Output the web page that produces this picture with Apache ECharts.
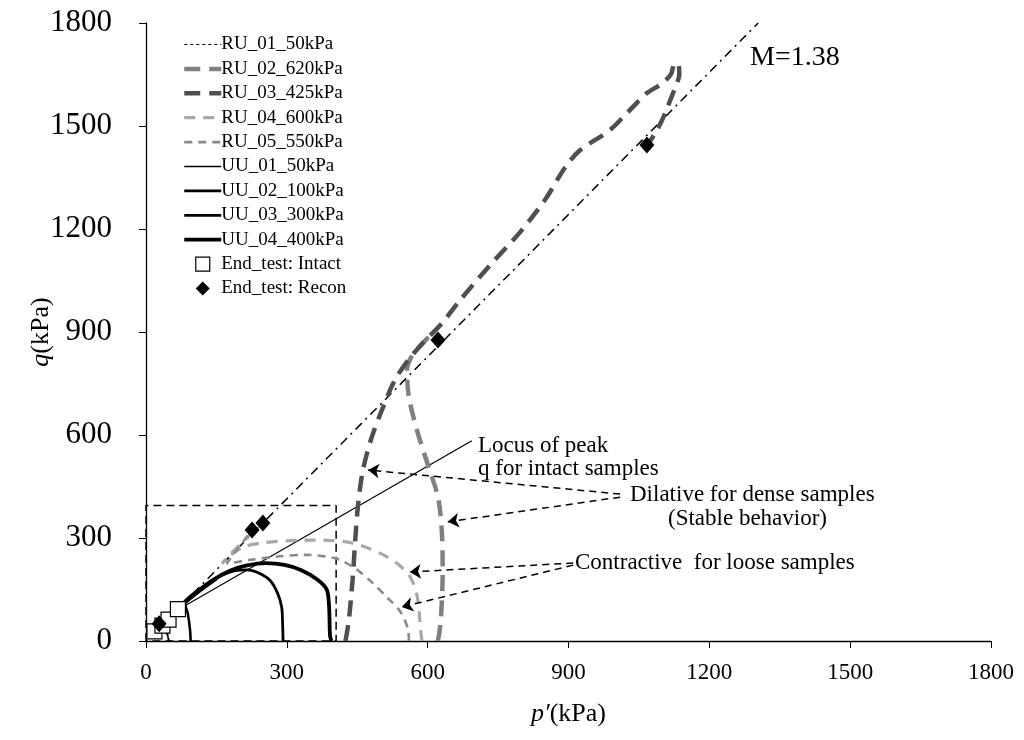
<!DOCTYPE html>
<html><head><meta charset="utf-8">
<script src="https://cdn.jsdelivr.net/npm/echarts@6/dist/echarts.min.js"></script>
<style>html,body{margin:0;padding:0;background:#fff}#c{width:1024px;height:740px}</style>
</head><body><div id="c"></div>
<script>
// ---- data (p', q) in kPa ----
const xTicks = [0, 300, 600, 900, 1200, 1500, 1800];
const yTicks = [0, 300, 600, 900, 1200, 1500, 1800];
const RU_01 = [[50,0],[46,15],[40,30],[33,42],[28,50]];
const RU_02 = [[622,0],[628,60],[632,207],[630,323],[622,419],[600,515],[577,615],[560,711],[556,790],[568,835],[584,860],[602,885],[616,898]];
const RU_03 = [[425,0],[432,60],[440,177],[446,300],[452,400],[462,497],[480,590],[505,681],[530,760],[559,819],[590,868],[630,925],[669,993],[733,1095],[797,1191],[850,1285],[893,1380],[925,1430],[988,1488],[1027,1541],[1067,1596],[1095,1620],[1118,1650],[1125,1680],[1133,1682],[1136,1650],[1130,1620],[1121,1590],[1110,1552],[1099,1516],[1085,1480],[1072,1452]];
const RU_04 = [[588,0],[585,32],[578,128],[563,186],[534,227],[498,256],[441,285],[371,294],[300,292],[250,286],[210,275],[180,250],[162,226],[182,256],[212,297],[249,344]];
const RU_05 = [[560,0],[558,35],[542,85],[515,125],[482,170],[445,212],[405,240],[340,251],[280,246],[220,236],[185,228],[172,226],[195,268],[226,323]];
const UU_01 = [[48,0],[46,20],[44,40],[50,58],[55,68],[45,58],[30,42],[18,28]];
const UU_02 = [[95,0],[94,30],[89,80],[83,110],[100,135],[130,165],[150,180],[120,150],[90,118],[66,90],[45,61]];
const UU_03 = [[292,0],[291,50],[289,99],[280,140],[264,177],[240,198],[215,207],[190,205],[160,190],[130,165],[100,135],[80,110],[68,92]];
const UU_04 = [[395,0],[392,15],[390,100],[385,150],[364,180],[330,207],[295,222],[255,227],[215,220],[180,205],[143,178],[110,145],[87,120],[70,95]];
const intactEnd = [[18,28],[35,45],[48,62],[68,93]];
const reconEnd = [[28,50],[226,323],[249,344],[622,877],[1067,1445]];
const mLine = [[100,138],[1304,1800]];
const locusLine = [[20,53],[694,583]];
const boxLine = [[0,0],[0,395],[405,395],[405,0],[0,0]];
const arrows = [
  [[1010,428],[473,498]],
  [[1010,419],[643,347]],
  [[910,227],[562,201]],
  [[910,221],[545,99]]
];
const lineNames = ['RU_01_50kPa','RU_02_620kPa','RU_03_425kPa','RU_04_600kPa','RU_05_550kPa','UU_01_50kPa','UU_02_100kPa','UU_03_300kPa','UU_04_400kPa'];
const pointNames = ['End_test: Intact','End_test: Recon'];

const FONT = 'Liberation Serif, Times New Roman, serif';
const styles = {
  'RU_01_50kPa':  {color:'#000',    width:1.2, type:[3,3]},
  'RU_02_620kPa': {color:'#808080', width:4.5, type:[16,9]},
  'RU_03_425kPa': {color:'#4f4f4f', width:4.5, type:[16,9]},
  'RU_04_600kPa': {color:'#a8a8a8', width:3.2, type:[11,8]},
  'RU_05_550kPa': {color:'#8a8a8a', width:2.6, type:[8,6]},
  'UU_01_50kPa':  {color:'#000',    width:1.6, type:'solid'},
  'UU_02_100kPa': {color:'#000',    width:2.6, type:'solid'},
  'UU_03_300kPa': {color:'#000',    width:2.8, type:'solid'},
  'UU_04_400kPa': {color:'#000',    width:3.8, type:'solid'}
};
const curveData = {'RU_01_50kPa':RU_01,'RU_02_620kPa':RU_02,'RU_03_425kPa':RU_03,'RU_04_600kPa':RU_04,'RU_05_550kPa':RU_05,
  'UU_01_50kPa':UU_01,'UU_02_100kPa':UU_02,'UU_03_300kPa':UU_03,'UU_04_400kPa':UU_04};
function curve(name) {
  const s = styles[name];
  return {name, type:'line', data:curveData[name], showSymbol:false, symbol:'none', smooth:0.3,
    lineStyle:{color:s.color, width:s.width, type:s.type}, itemStyle:{color:s.color}, z:3};
}
const chart = echarts.init(document.getElementById('c'), null, {renderer:'canvas'});
const legendData = lineNames.map(n => ({name:n, itemStyle:{opacity:0},
    lineStyle:{width:styles[n].width, color:styles[n].color, type:styles[n].type}}))
  .concat([
    {name:pointNames[0], icon:'path://M0,0L10,0L10,10L0,10Z', itemStyle:{color:'#fff', borderColor:'#000', borderWidth:1.2}},
    {name:pointNames[1], icon:'path://M5,0L10,5L5,10L0,5Z', itemStyle:{color:'#000'}}
  ]);
const option = {
  animation:false,
  backgroundColor:'#fff',
  grid:{left:146, right:33, top:23, bottom:99},
  xAxis:{type:'value', min:xTicks[0], max:xTicks[xTicks.length-1], interval:xTicks[1]-xTicks[0],
    axisLine:{lineStyle:{color:'#000', width:1.3}},
    axisTick:{inside:false, length:7, lineStyle:{color:'#000'}},
    splitLine:{show:false},
    axisLabel:{color:'#000', fontFamily:FONT, fontSize:23, margin:20, formatter:v=>String(v)},
    name:'{i|p′}{n|(kPa)}', nameLocation:'middle', nameGap:60, nameMoveOverlap:false,
    nameTextStyle:{rich:{i:{fontStyle:'italic', fontFamily:FONT, fontSize:26, color:'#000'}, n:{fontFamily:FONT, fontSize:26, color:'#000'}}}
  },
  yAxis:{type:'value', min:yTicks[0], max:yTicks[yTicks.length-1], interval:yTicks[1]-yTicks[0],
    axisLine:{show:true, lineStyle:{color:'#000', width:1.3}},
    axisTick:{show:true, inside:false, length:7, lineStyle:{color:'#000'}},
    splitLine:{show:false},
    axisLabel:{color:'#000', fontFamily:FONT, fontSize:31, margin:34, formatter:v=>String(v)},
    name:'{i|q}{n|(kPa)}', nameLocation:'middle', nameGap:92, nameRotate:90, nameMoveOverlap:false,
    nameTextStyle:{rich:{i:{fontStyle:'italic', fontFamily:FONT, fontSize:26, color:'#000'}, n:{fontFamily:FONT, fontSize:26, color:'#000'}}}
  },
  legend:{orient:'vertical', left:177, top:30, itemWidth:37, itemHeight:14, itemGap:5.4,
    textStyle:{fontFamily:FONT, fontSize:19, color:'#000', padding:[0,0,0,-5]},
    data: legendData},
  series:[
    {name:'M', type:'line', data:mLine, showSymbol:false, symbol:'none', lineStyle:{color:'#000', width:1.5, type:[9,5,2,5]}, z:2},
    {name:'box', type:'line', data:boxLine, showSymbol:false, symbol:'none', lineStyle:{color:'#000', width:1.5, type:[8,5]}, z:2},
    {name:'locus', type:'line', data:locusLine, showSymbol:false, symbol:'none', lineStyle:{color:'#000', width:1.2}, z:2,
      markLine:{silent:true, symbol:['none','arrow'], symbolSize:11, label:{show:false},
        lineStyle:{color:'#000', width:1.5, type:[7,5]},
        data: arrows.map(a => [{coord:a[0]},{coord:a[1]}])}},
    ...lineNames.map(curve),
    {name:pointNames[0], type:'scatter', data:intactEnd, symbol:'rect', symbolSize:15,
      itemStyle:{color:'#fff', borderColor:'#000', borderWidth:1.2, opacity:1}, z:5},
    {name:pointNames[1], type:'scatter', data:reconEnd, symbol:'diamond', symbolSize:[15,17],
      itemStyle:{color:'#000', opacity:1}, z:6}
  ],
  graphic:[
    {type:'text', left:750, top:44, style:{text:'M=1.38', font:'28px '+FONT, fill:'#000'}},
    {type:'text', left:478, top:434, style:{text:'Locus of peak', font:'23px '+FONT, fill:'#000'}},
    {type:'text', left:478, top:457, style:{text:'q for intact samples', font:'23px '+FONT, fill:'#000'}},
    {type:'text', left:630, top:483, style:{text:'Dilative for dense samples', font:'23px '+FONT, fill:'#000'}},
    {type:'text', left:668, top:507, style:{text:'(Stable behavior)', font:'23px '+FONT, fill:'#000'}},
    {type:'text', left:575, top:551, style:{text:'Contractive  for loose samples', font:'23px '+FONT, fill:'#000'}}
  ]
};
chart.setOption(option);
</script></body></html>
